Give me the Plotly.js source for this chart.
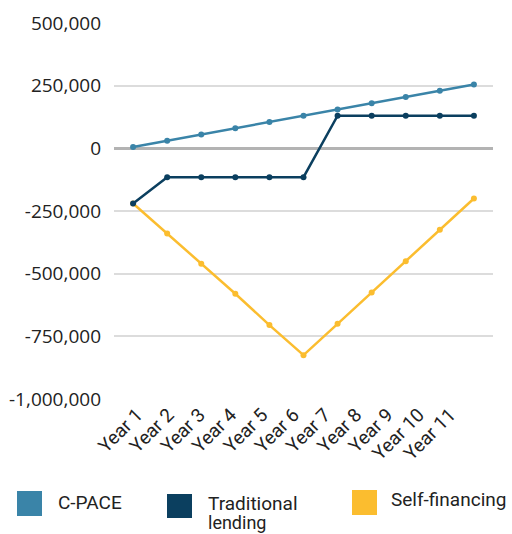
<!DOCTYPE html>
<html>
<head>
<meta charset="utf-8">
<script src="https://cdn.plot.ly/plotly-3.0.1.min.js"></script>
<style>html,body{margin:0;padding:0;background:#fff;}#chart{width:512px;height:534px;}</style>
</head>
<body>
<div id="chart"></div>
<script>
const years = ["Year 1","Year 2","Year 3","Year 4","Year 5","Year 6","Year 7","Year 8","Year 9","Year 10","Year 11"];
const cpace = [5000,30000,55000,80000,105000,130000,155000,180000,205000,230000,255000];
const traditional = [-220000,-115000,-115000,-115000,-115000,-115000,130000,130000,130000,130000,130000];
const selfFinancing = [-220000,-340000,-460000,-580000,-705000,-825000,-700000,-575000,-450000,-325000,-200000];
const seriesNames = ["C-PACE","Traditional<br>lending","Self-financing"];
const colors = ["#3a84a8","#0b3f5f","#fbbd2f"];

const mk = (y, i) => ({
  x: years, y: y, type: "scatter", mode: "lines+markers",
  name: seriesNames[i], showlegend: false,
  line: {color: colors[i], width: 2.5},
  marker: {color: colors[i], size: 6}
});
const data = [mk(selfFinancing,2), mk(traditional,1), mk(cpace,0)];

const W = 512, H = 534, L = 114, R = 19, T = 23, B = 135;
const pw = W - L - R, ph = H - T - B;
const px = v => (v - L) / pw;
const py = v => (H - B - v) / ph;

const swatches = [[17,491,42,516],[167,494,192,518],[352,490,377,515]];
const shapes = swatches.map((s,i) => ({
  type: "rect", xref: "paper", yref: "paper",
  x0: px(s[0]), x1: px(s[2]), y0: py(s[3]), y1: py(s[1]),
  fillcolor: colors[i], line: {width: 0}
}));
const legFont = {family: "Roboto, 'Noto Sans', sans-serif", size: 19, color: "#222"};
const labels = [["C-PACE",56,502,19],["Traditional",206,503,19],["lending",206,522.5,18],["Self-financing",389,499,19]];
const annotations = labels.map(l => ({
  text: l[0], xref: "paper", yref: "paper", x: px(l[1]), y: py(l[2]),
  xanchor: "left", yanchor: "middle", showarrow: false,
  font: Object.assign({}, legFont, {size: l[3]})
}));

const tickIdx = years.map((_, i) => i);

const layout = {
  width: W, height: H,
  margin: {l: L, r: R, t: T, b: B},
  paper_bgcolor: "#fff", plot_bgcolor: "#fff",
  showlegend: false,
  xaxis: {
    type: "category", range: [-0.56, 10.56],
    showgrid: false, zeroline: false, showline: false, ticks: "",
    showticklabels: false
  },
  xaxis2: {
    overlaying: "x", anchor: "y", side: "bottom", type: "linear",
    range: [-0.735, 11.374],
    tickvals: tickIdx, ticktext: years,
    showgrid: false, zeroline: false, showline: false, ticks: "",
    tickangle: -45,
    tickfont: {family: "Roboto, 'Noto Sans', sans-serif", size: 19, color: "#222"}
  },
  yaxis: {
    range: [-1000000, 500000],
    tickvals: [500000,250000,0,-250000,-500000,-750000,-1000000],
    ticktext: ["500,000","250,000","0","-250,000","-500,000","-750,000","-1,000,000"],
    showgrid: true, gridcolor: "#dcdcdc", gridwidth: 2,
    zeroline: true, zerolinecolor: "#b3b3b3", zerolinewidth: 2.5,
    showline: false, ticks: "",
    ticklabelstandoff: 12,
    tickfont: {family: "'Open Sans', 'Noto Sans', sans-serif", size: 19, color: "#222"}
  },
  shapes: shapes,
  annotations: annotations
};

// invisible helper trace to activate the label axis
data.push({x: [0], y: [0], xaxis: "x2", yaxis: "y", type: "scatter", mode: "markers",
  marker: {opacity: 0}, showlegend: false, hoverinfo: "skip"});

Plotly.newPlot("chart", data, layout, {displayModeBar: false, staticPlot: true});
</script>
</body>
</html>
